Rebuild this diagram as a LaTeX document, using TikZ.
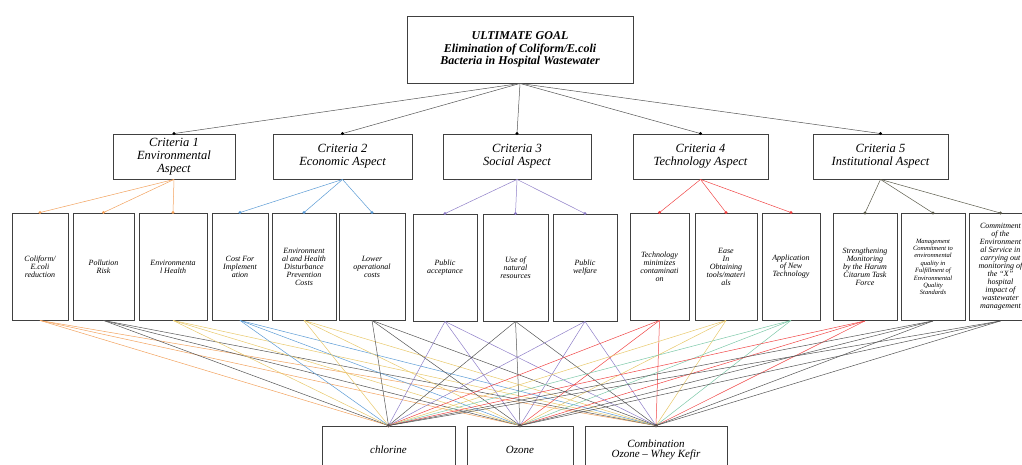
\documentclass[tikz,border=0pt]{standalone}
\usepackage{fontspec}
\setmainfont{Liberation Serif}
\usetikzlibrary{positioning}
\definecolor{envc}{HTML}{F2A25E}
\definecolor{ecoc}{HTML}{5B9BD5}
\definecolor{socc}{HTML}{8F7FC8}
\definecolor{tecc}{HTML}{F04545}
\definecolor{insc}{HTML}{5A5A4A}
\definecolor{lkyel}{HTML}{E8C86A}
\definecolor{lkgrn}{HTML}{7CC8A8}
\definecolor{lkdrk}{HTML}{555555}
\tikzset{
  goalbox/.style={draw=black!75, line width=0.9pt, align=center,
                  minimum width=226pt, minimum height=67pt,
                  font=\fontsize{12}{12.5}\selectfont\bfseries\itshape},
  critbox/.style={draw=black!75, line width=0.9pt, align=center,
                  minimum height=45pt, inner sep=1pt,
                  font=\fontsize{12.5}{13}\selectfont\itshape},
  subbox/.style ={draw=black!75, line width=0.9pt, align=center,
                  minimum height=107pt, minimum width=#1,
                  inner sep=1pt, font=\fontsize{8}{8}\selectfont\itshape},
  altbox/.style ={draw=black!75, line width=0.9pt, align=center,
                  minimum height=48pt, inner sep=1pt,
                  font=\fontsize{11}{10.5}\selectfont\itshape},
  link/.style   ={line width=0.5pt, draw=#1},
  dot/.style    ={circle, fill=#1, inner sep=0pt, minimum size=3.2pt},
}
\begin{document}
\begin{tikzpicture}[x=1pt, y=-1pt]
  \useasboundingbox (0,0) rectangle (1022,465);

  % Ultimate goal
  \node[goalbox] (goal) at (520,49.5)
    {ULTIMATE GOAL\\Elimination of Coliform/E.coli\\Bacteria in Hospital Wastewater};

  % Criteria
  \node[critbox, minimum width=122pt] (c1) at (174,156.5) {Criteria 1\\Environmental\\Aspect};
  \node[critbox, minimum width=139pt] (c2) at (342.5,156.5) {Criteria 2\\Economic Aspect};
  \node[critbox, minimum width=148pt] (c3) at (517,156.5) {Criteria 3\\Social Aspect};
  \node[critbox, minimum width=135pt] (c4) at (700.5,156.5) {Criteria 4\\Technology Aspect};
  \node[critbox, minimum width=135pt] (c5) at (880.5,156.5) {Criteria 5\\Institutional Aspect};

  % Sub-criteria
  \node[subbox=56pt] (s1)  at (40,266.5)   {Coliform/\\E.coli\\reduction};
  \node[subbox=61pt] (s2)  at (103.5,266.5) {Pollution\\Risk};
  \node[subbox=68pt] (s3)  at (173,266.5)  {Environmenta\\l Health};
  \node[subbox=56pt] (s4)  at (240,266.5)  {Cost For\\Implement\\ation};
  \node[subbox=64pt] (s5)  at (304,266.5)  {Environment\\al and Health\\Disturbance\\Prevention\\Costs};
  \node[subbox=66pt] (s6)  at (372,266.5)  {Lower\\operational\\costs};
  \node[subbox=64pt] (s7)  at (445,267.5)  {Public\\acceptance};
  \node[subbox=65pt] (s8)  at (515.5,267.5) {Use of\\natural\\resources};
  \node[subbox=64pt] (s9)  at (585,267.5)  {Public\\welfare};
  \node[subbox=59pt] (s10) at (659.5,266.5) {Technology\\minimizes\\contaminati\\on};
  \node[subbox=62pt] (s11) at (726,266.5)  {Ease\\In\\Obtaining\\tools/materi\\als};
  \node[subbox=58pt] (s12) at (791,266.5)  {Application\\of New\\Technology};
  \node[subbox=64pt] (s13) at (865,267)    {Strengthening\\Monitoring\\by the Harum\\Citarum Task\\Force};
  \node[subbox=64pt, font=\fontsize{6.5}{7.4}\selectfont\itshape] (s14) at (933,267)
    {Management\\Commitment to\\environmental\\quality in\\Fulfillment of\\Environmental\\Quality\\Standards};
  \node[subbox=62pt, anchor=west] (s15) at (969,267) {Commitment\\of the\\Environment\\al Service in\\carrying out\\monitoring of\\the ``X''\\hospital\\impact of\\wastewater\\management};

  % Alternatives
  \node[altbox, minimum width=133pt] (alt1) at (388.5,450) {chlorine};
  \node[altbox, minimum width=106pt] (alt2) at (520,450)   {Ozone};
  \node[altbox, minimum width=142pt] (alt3) at (656,450)   {Combination\\Ozone -- Whey Kefir};

  % Goal to criteria
  \foreach \c in {c1,c2,c3,c4,c5}
    \draw[link=lkdrk] (goal.south) -- (\c.north) node[dot=black, pos=1] {};

  % Criteria to sub-criteria
  \foreach \c/\s/\col in {c1/s1/envc, c1/s2/envc, c1/s3/envc,
                          c2/s4/ecoc, c2/s5/ecoc, c2/s6/ecoc,
                          c3/s7/socc, c3/s8/socc, c3/s9/socc,
                          c4/s10/tecc, c4/s11/tecc, c4/s12/tecc,
                          c5/s13/insc, c5/s14/insc, c5/s15/insc}
    \draw[link=\col] (\c.south) -- (\s.north) node[dot=\col, pos=1] {};

  % Sub-criteria to alternatives
  \foreach \s/\col in {s1/envc, s2/lkdrk, s3/lkyel, s4/ecoc, s5/lkyel,
                       s6/lkdrk, s7/socc, s8/lkdrk, s9/socc, s10/tecc,
                       s11/lkyel, s12/lkgrn, s13/tecc, s14/lkdrk, s15/lkdrk}
    \foreach \a in {alt1,alt2,alt3}
      \draw[link=\col] (\s.south) -- (\a.north) node[dot=\col, pos=1] {};
\end{tikzpicture}
\end{document}
